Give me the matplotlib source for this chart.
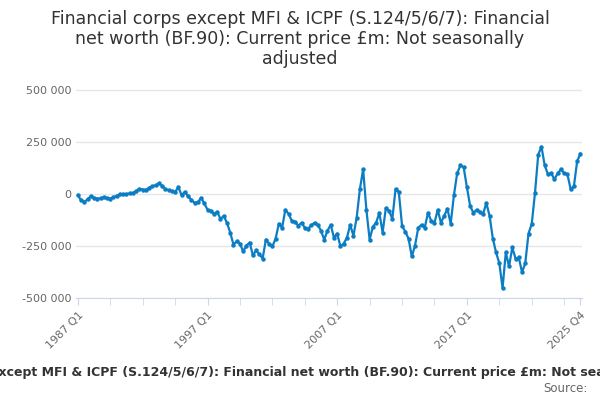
import matplotlib
matplotlib.use("Agg")
import matplotlib.pyplot as plt

values_k = [-5,-30,-38,-25,-10,-18,-22,-20,-15,-20,-22,-15,-8,0,-2,0,3,5,15,25,22,20,30,38,42,52,40,25,18,15,
            10,33,-5,10,-10,-28,-42,-40,-18,-45,-75,-80,-95,-85,-120,-105,-138,-185,-243,-228,
            -238,-276,-248,-233,-295,-271,-290,-310,-219,-238,-252,-214,-143,-162,-76,-95,-129,-133,-152,-138,
            -162,-167,-150,-138,-148,-176,-219,-176,-148,-210,-190,-252,-238,-210,-148,-200,-114,24,119,-76,
            -219,-157,-138,-90,-186,-67,-81,-119,24,10,-152,-181,-214,-300,-248,-162,-148,-162,-90,-129,
            -138,-76,-138,-105,-71,-143,-5,100,138,129,33,-57,-90,-76,-86,-95,-43,-105,-214,-281,
            -333,-452,-281,-348,-257,-310,-305,-376,-333,-190,-143,5,190,228,138,95,100,71,100,119,
            100,95,24,38,157,195]
values = [v*1000 for v in values_k]
tick_pos = [0, 40, 80, 120, 155]
tick_labels = ["1987 Q1", "1997 Q1", "2007 Q1", "2017 Q1", "2025 Q4"]
y_ticks = [-500000, -250000, 0, 250000, 500000]
y_labels = ["-500 000", "-250 000", "0", "250 000", "500 000"]

fig = plt.figure(figsize=(6, 4), dpi=100)
ax = fig.add_axes([0.127, 0.255, 0.843, 0.53])
for s in ["top", "right", "left"]:
    ax.spines[s].set_visible(False)
ax.spines["bottom"].set_color("#ccd6eb")
ax.spines["bottom"].set_position(("data", -500000))
x = list(range(len(values)))
ax.plot(x, values, color="#0b7dc4", lw=1.6, marker="o", ms=2.2)
ax.set_xlim(-0.5, 155.5)
ax.set_ylim(-500000, 520000)
ax.set_yticks(y_ticks)
ax.set_yticklabels(y_labels, fontsize=8, color="#666666")
ax.set_xticks(list(range(0, 156, 10)) + [155], minor=True)
ax.set_xticks(tick_pos)
ax.set_xticklabels(tick_labels, fontsize=8, color="#666666", rotation=45, ha="right", rotation_mode="anchor")
ax.tick_params(axis="x", which="both", length=5, color="#ccd6eb")
ax.tick_params(axis="y", length=0)
ax.grid(axis="y", color="#e6e6e6", lw=1)
ax.set_axisbelow(True)

fig.text(0.5, 0.975, "Financial corps except MFI & ICPF (S.124/5/6/7): Financial\nnet worth (BF.90): Current price £m: Not seasonally\nadjusted",
         ha="center", va="top", fontsize=12.5, color="#333333", linespacing=1.15)
fig.text(0.5, 0.068, "Financial corps except MFI & ICPF (S.124/5/6/7): Financial net worth (BF.90): Current price £m: Not seasonally adjusted",
         ha="center", va="center", fontsize=9, fontweight="bold", color="#333333")
fig.text(0.98, 0.012, "Source:", ha="right", va="bottom", fontsize=8.5, color="#666666")
fig.savefig("out.png", dpi=100)
